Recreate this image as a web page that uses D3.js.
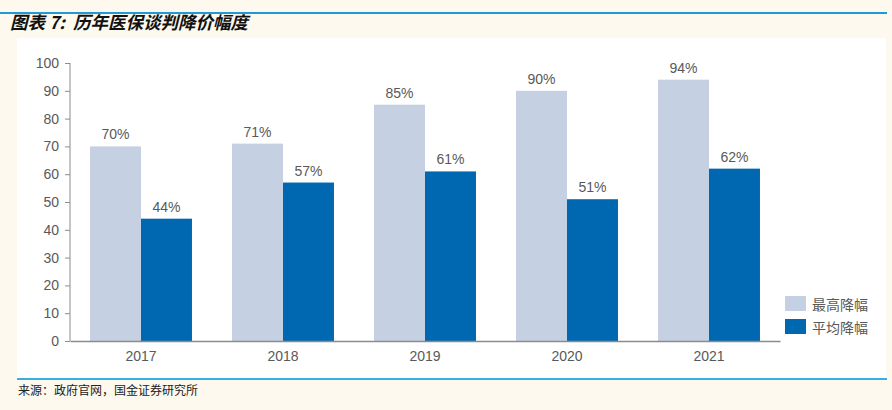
<!DOCTYPE html>
<html>
<head>
<meta charset="utf-8">
<script src="https://cdn.jsdelivr.net/npm/d3@7"></script>
<style>
  body { margin: 0; background: #fdf9ee; }
  svg { display: block; }
</style>
</head>
<body>
<div class="chart"></div>
<script>
const years = ["2017", "2018", "2019", "2020", "2021"];
const seriesNames = ["最高降幅", "平均降幅"];
const maxCut = [70, 71, 85, 90, 94];
const avgCut = [44, 57, 61, 51, 62];
const yTicks = [0, 10, 20, 30, 40, 50, 60, 70, 80, 90, 100];

const W = 892, H = 410;
const colors = ["#c5d0e2", "#0068b1"];
const textColor = "#595959";

const svg = d3.select(".chart").append("svg")
    .attr("width", W)
    .attr("height", H);

// page background + frame
svg.append("rect").attr("width", W).attr("height", H).attr("fill", "#fdf9ee");
svg.append("line")
    .attr("x1", 0).attr("x2", 887).attr("y1", 13).attr("y2", 13)
    .attr("stroke", "#1e9ad8").attr("stroke-width", 2);
svg.append("rect")
    .attr("x", 17).attr("y", 38).attr("width", 869).attr("height", 340)
    .attr("fill", "#ffffff");
svg.append("line")
    .attr("x1", 17).attr("x2", 887).attr("y1", 379).attr("y2", 379)
    .attr("stroke", "#3aaee0").attr("stroke-width", 2);

svg.append("text")
    .attr("x", 10).attr("y", 29)
    .attr("font-family", "'Noto Sans CJK SC'")
    .attr("font-size", 17.5)
    .attr("font-weight", "bold")
    .attr("font-style", "italic")
    .attr("fill", "#111")
    .style("white-space", "pre")
    .text("图表 7:  历年医保谈判降价幅度");

svg.append("text")
    .attr("x", 18).attr("y", 395)
    .attr("font-family", "'Noto Sans CJK SC'")
    .attr("font-size", 12)
    .attr("fill", "#222")
    .text("来源：政府官网，国金证券研究所");

// scales
const x0 = d3.scaleBand()
    .domain(years)
    .range([70, 780])
    .paddingInner(0.282)
    .paddingOuter(0.141);

const x1 = d3.scaleBand()
    .domain(seriesNames)
    .range([0, x0.bandwidth()]);

const y = d3.scaleLinear()
    .domain([0, 100])
    .range([341, 63]);

const data = years.map((yr, i) => ({year: yr, values: [maxCut[i], avgCut[i]]}));

const groups = svg.selectAll(".grp")
    .data(data)
    .enter()
    .append("g")
    .attr("class", "grp")
    .attr("transform", d => `translate(${x0(d.year)},0)`);

groups.selectAll("rect")
    .data(d => d.values.map((v, j) => ({name: seriesNames[j], value: v, j: j})))
    .enter()
    .append("rect")
    .attr("x", d => x1(d.name))
    .attr("y", d => y(d.value))
    .attr("width", x1.bandwidth())
    .attr("height", d => y(0) - y(d.value))
    .attr("fill", d => colors[d.j]);

groups.selectAll(".lbl")
    .data(d => d.values.map((v, j) => ({name: seriesNames[j], value: v})))
    .enter()
    .append("text")
    .attr("class", "lbl")
    .attr("x", d => x1(d.name) + x1.bandwidth() / 2)
    .attr("y", d => y(d.value) - 7)
    .attr("text-anchor", "middle")
    .attr("font-family", "Arial, 'Liberation Sans', sans-serif")
    .attr("font-size", 14)
    .attr("fill", textColor)
    .text(d => d.value + "%");

// axes
const yAxis = d3.axisLeft(y).tickValues(yTicks).tickSize(5).tickPadding(6);
const gy = svg.append("g")
    .attr("transform", "translate(70,0)")
    .call(yAxis);
gy.select(".domain").attr("stroke", "#8c8c8c").attr("d", `M0,${y(100)}V${y(0)}`);
gy.selectAll(".tick line").attr("stroke", "#8c8c8c");
gy.selectAll(".tick text")
    .attr("font-family", "Arial, 'Liberation Sans', sans-serif")
    .attr("font-size", 14)
    .attr("fill", textColor);

const xAxis = d3.axisBottom(x0).tickSize(0).tickPadding(10);
const gx = svg.append("g")
    .attr("transform", `translate(0,${y(0)})`)
    .call(xAxis);
gx.select(".domain").attr("stroke", "#8c8c8c").attr("stroke-width", 1.5);
gx.selectAll(".tick text")
    .attr("font-family", "Arial, 'Liberation Sans', sans-serif")
    .attr("font-size", 14)
    .attr("fill", textColor);

// legend
const legend = svg.append("g").attr("transform", "translate(785,296)");
legend.selectAll("rect")
    .data(seriesNames)
    .enter()
    .append("rect")
    .attr("x", 0)
    .attr("y", (d, i) => i * 23)
    .attr("width", 21)
    .attr("height", 15)
    .attr("fill", (d, i) => colors[i]);
legend.selectAll("text")
    .data(seriesNames)
    .enter()
    .append("text")
    .attr("x", 27)
    .attr("y", (d, i) => i * 23 + 8)
    .attr("dominant-baseline", "central")
    .attr("font-family", "'Noto Sans CJK SC'")
    .attr("font-size", 14)
    .attr("fill", textColor)
    .text(d => d);
</script>
</body>
</html>
